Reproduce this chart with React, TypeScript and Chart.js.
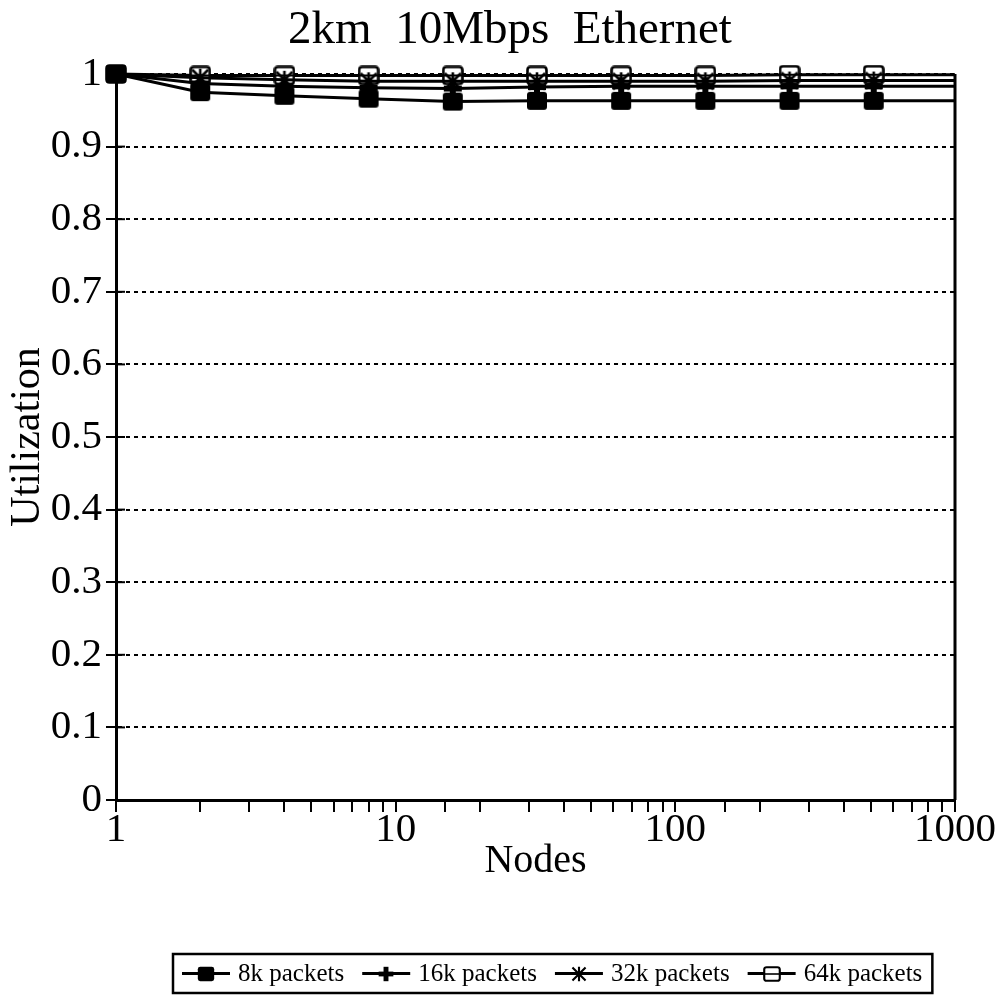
import React, { useEffect, useRef } from 'react';
import { Chart, registerables } from 'chart.js';

Chart.register(...registerables);

const FONT = "'Liberation Serif', 'Times New Roman', Times, serif";

const chartTitle = '2km  10Mbps  Ethernet';
const xAxisTitle = 'Nodes';
const yAxisTitle = 'Utilization';
const nodes = [1, 2, 4, 8, 16, 32, 64, 128, 256, 512, 1024];
const seriesLabels = ['8k packets', '16k packets', '32k packets', '64k packets'];
const util8k = [1, 0.975, 0.97, 0.966, 0.962, 0.963, 0.963, 0.963, 0.963, 0.963, 0.963];
const util16k = [1, 0.987, 0.983, 0.981, 0.98, 0.982, 0.983, 0.983, 0.983, 0.983, 0.983];
const util32k = [1, 0.995, 0.992, 0.99, 0.99, 0.99, 0.99, 0.99, 0.991, 0.991, 0.991];
const util64k = [1, 0.998, 0.998, 0.998, 0.998, 0.998, 0.998, 0.998, 0.999, 0.999, 0.999];
const xTickLabels = [1, 10, 100, 1000];
const xMin = 1;
const xMax = 1000;
const yMin = 0;
const yMax = 1;
const yStep = 0.1;

function roundRectPath(ctx: CanvasRenderingContext2D, x: number, y: number, w: number, h: number, r: number) {
  ctx.beginPath();
  ctx.moveTo(x + r, y);
  ctx.lineTo(x + w - r, y);
  ctx.quadraticCurveTo(x + w, y, x + w, y + r);
  ctx.lineTo(x + w, y + h - r);
  ctx.quadraticCurveTo(x + w, y + h, x + w - r, y + h);
  ctx.lineTo(x + r, y + h);
  ctx.quadraticCurveTo(x, y + h, x, y + h - r);
  ctx.lineTo(x, y + r);
  ctx.quadraticCurveTo(x, y, x + r, y);
  ctx.closePath();
}

function makeMarker(kind: number, scale: number): HTMLCanvasElement {
  const w = Math.round(22 * scale);
  const h = Math.round(20 * scale);
  const c = document.createElement('canvas');
  c.width = w;
  c.height = h;
  const ctx = c.getContext('2d')!;
  ctx.scale(w / 22, h / 20);
  ctx.fillStyle = '#000';
  ctx.strokeStyle = '#000';
  if (kind === 0) {
    roundRectPath(ctx, 1, 1, 20, 18, 3);
    ctx.fill();
  } else if (kind === 1) {
    ctx.fillRect(2, 7, 18, 6);
    ctx.fillRect(8, 1, 6, 18);
  } else if (kind === 2) {
    ctx.lineWidth = 2.6;
    ctx.beginPath();
    ctx.moveTo(3, 2); ctx.lineTo(19, 18);
    ctx.moveTo(19, 2); ctx.lineTo(3, 18);
    ctx.moveTo(11, 1); ctx.lineTo(11, 19);
    ctx.stroke();
  } else {
    roundRectPath(ctx, 1.5, 1.5, 19, 17, 3);
    ctx.fillStyle = '#fff';
    ctx.fill();
    ctx.lineWidth = 2.6;
    ctx.stroke();
    ctx.lineWidth = 2;
    ctx.beginPath();
    ctx.moveTo(1.5, 10); ctx.lineTo(20.5, 10);
    ctx.stroke();
  }
  return c;
}

export default function App() {
  const canvasRef = useRef<HTMLCanvasElement | null>(null);

  useEffect(() => {
    const canvas = canvasRef.current;
    if (!canvas) return;
    const series = [util8k, util16k, util32k, util64k];
    const plotMarkers = [0, 1, 2, 3].map((k) => makeMarker(k, 1));
    const legendMarkers = [0, 1, 2, 3].map((k) => makeMarker(k, 0.8));

    const titlePlugin = {
      id: 'customTitle',
      afterDraw(chart: any) {
        const ctx = chart.ctx as CanvasRenderingContext2D;
        ctx.save();
        ctx.font = `47px ${FONT}`;
        ctx.fillStyle = '#000';
        ctx.textAlign = 'center';
        ctx.textBaseline = 'alphabetic';
        ctx.fillText(chartTitle, 510, 43);
        ctx.restore();
      },
    };

    const framePlugin = {
      id: 'rightFrame',
      afterDatasetsDraw(chart: any) {
        const { ctx, chartArea } = chart;
        ctx.save();
        ctx.strokeStyle = '#000';
        ctx.lineWidth = 3;
        ctx.beginPath();
        ctx.moveTo(chartArea.right, chartArea.top);
        ctx.lineTo(chartArea.right, chartArea.bottom);
        ctx.stroke();
        const ys = chart.scales.y;
        ctx.lineWidth = 2;
        ys.ticks.forEach((t: any) => {
          const py = ys.getPixelForValue(t.value);
          ctx.beginPath();
          ctx.moveTo(chartArea.left, py);
          ctx.lineTo(chartArea.left + 9, py);
          ctx.stroke();
        });
        ctx.restore();
      },
    };

    const legendPlugin = {
      id: 'boxLegend',
      afterDraw(chart: any) {
        const ctx = chart.ctx as CanvasRenderingContext2D;
        ctx.save();
        ctx.font = `25px ${FONT}`;
        const top = 954;
        const h = 39;
        const left = 173;
        const cy = top + h / 2;
        let x = left + 9;
        chart.data.datasets.forEach((ds: any, i: number) => {
          ctx.strokeStyle = '#000';
          ctx.lineWidth = 3;
          ctx.beginPath();
          ctx.moveTo(x, cy);
          ctx.lineTo(x + 48, cy);
          ctx.stroke();
          const m = legendMarkers[i];
          ctx.drawImage(m, Math.round(x + 24 - m.width / 2), Math.round(cy - m.height / 2));
          x += 56;
          ctx.fillStyle = '#000';
          ctx.textAlign = 'left';
          ctx.textBaseline = 'middle';
          ctx.fillText(ds.label, x, cy + 1);
          x += ctx.measureText(ds.label).width + 18;
        });
        const right = x - 18 + 10;
        ctx.lineWidth = 2.5;
        ctx.strokeStyle = '#000';
        ctx.strokeRect(left, top, right - left, h);
        ctx.restore();
      },
    };

    const chart = new Chart(canvas, {
      type: 'line',
      data: {
        datasets: series.map((vals, i) => ({
          label: seriesLabels[i],
          data: nodes.map((n, j) => ({ x: n, y: vals[j] })),
          borderColor: '#000',
          backgroundColor: '#000',
          borderWidth: 3,
          pointStyle: plotMarkers[i] as any,
          pointRadius: (c: any) => (c.raw && c.raw.x > xMax ? 0 : 10),
          pointHoverRadius: 10,
          fill: false,
          tension: 0,
          clip: { left: 20, top: 20, right: 0, bottom: 20 } as any,
        })),
      },
      options: {
        animation: false,
        responsive: false,
        maintainAspectRatio: false,
        events: [],
        layout: { padding: { left: 0, right: 43, top: 74, bottom: 108 } },
        plugins: {
          legend: { display: false },
          title: { display: false },
          tooltip: { enabled: false },
        },
        scales: {
          x: {
            type: 'logarithmic',
            min: xMin,
            max: xMax,
            ticks: {
              autoSkip: false,
              maxRotation: 0,
              minRotation: 0,
              color: '#000',
              padding: -2,
              font: { family: FONT, size: 41, lineHeight: 1 },
              callback: (v: any) => (xTickLabels.includes(Math.round(Number(v))) ? String(Math.round(Number(v))) : ''),
            },
            grid: { drawOnChartArea: false, drawTicks: true, tickLength: 12, color: '#000', lineWidth: 2 },
            border: { color: '#000', width: 3 },
            title: {
              display: true,
              text: xAxisTitle,
              color: '#000',
              font: { family: FONT, size: 40, lineHeight: 1 },
              padding: { top: -8, bottom: 8 },
            },
          },
          y: {
            type: 'linear',
            min: yMin,
            max: yMax,
            afterFit: (s: any) => {
              s.width = 116;
            },
            ticks: {
              stepSize: yStep,
              color: '#000',
              padding: 4,
              font: { family: FONT, size: 41, lineHeight: 1 },
              callback: (v: any) => {
                const n = Math.round(Number(v) * 10) / 10;
                return n === 0 ? '0' : n === 1 ? '1' : n.toFixed(1);
              },
            },
            grid: { color: '#000', lineWidth: 2, drawTicks: true, tickLength: 10 },
            border: { color: '#000', width: 3, dash: [4, 4] },
            title: {
              display: true,
              text: yAxisTitle,
              color: '#000',
              font: { family: FONT, size: 42, lineHeight: 1 },
              padding: { top: 7, bottom: 0 },
            },
          },
        },
      },
      plugins: [framePlugin, titlePlugin, legendPlugin],
    });

    return () => {
      chart.destroy();
    };
  }, []);

  return (
    <div style={{ position: 'fixed', left: 0, top: 0, width: 998, height: 997, background: '#fff' }}>
      <canvas ref={canvasRef} width={998} height={997} style={{ display: 'block', width: 998, height: 997 }} />
    </div>
  );
}
